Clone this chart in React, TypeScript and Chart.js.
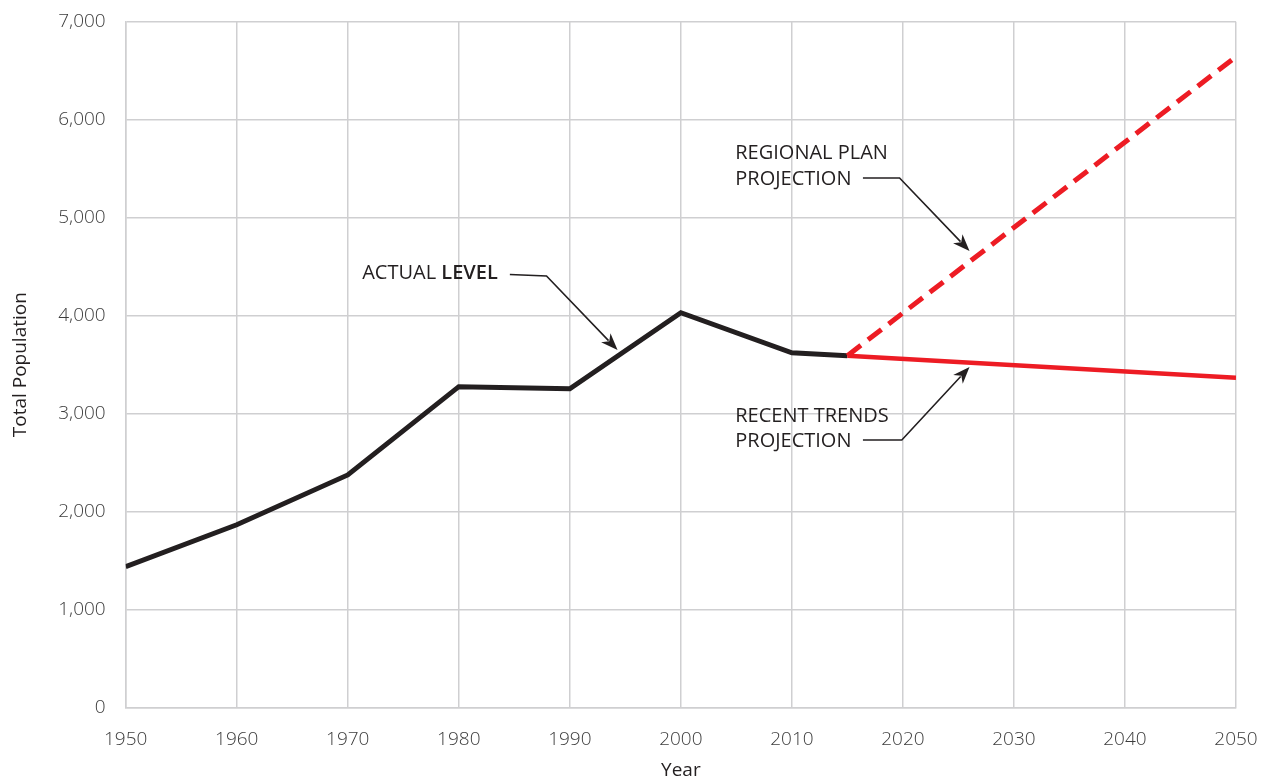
import React, { useEffect, useRef } from 'react';
import { Chart, registerables } from 'chart.js';

Chart.register(...registerables);

// ---- Data ----
const actualYears = [1950, 1960, 1970, 1980, 1990, 2000, 2010, 2015];
const actualValues = [1440, 1867, 2375, 3276, 3255, 4031, 3622, 3592];

const planYears = [2015, 2050];
const planValues = [3592, 6643];

const trendYears = [2015, 2050];
const trendValues = [3592, 3367];

const xTickValues = [1950, 1960, 1970, 1980, 1990, 2000, 2010, 2020, 2030, 2040, 2050];
const yTickValues = [0, 1000, 2000, 3000, 4000, 5000, 6000, 7000];

// Annotation texts (anchored in data coordinates)
const actualLabel = [[{ t: 'ACTUAL ', bold: false }, { t: 'LEVEL', bold: true }]];
const planLabel = [[{ t: 'REGIONAL PLAN', bold: false }], [{ t: 'PROJECTION', bold: false }]];
const trendLabel = [[{ t: 'RECENT TRENDS', bold: false }], [{ t: 'PROJECTION', bold: false }]];

const annotations = [
  { lines: actualLabel, textX: 1971.3, textY: [4436], path: [[1984.6, 4420], [1987.9, 4405], [1994.3, 3650]] },
  { lines: planLabel, textX: 2004.9, textY: [5660, 5395], path: [[2016.4, 5405], [2019.7, 5405], [2026.0, 4660]] },
  { lines: trendLabel, textX: 2004.9, textY: [2977, 2722], path: [[2016.4, 2732], [2019.9, 2732], [2026.0, 3477]] },
];

const toPoints = (xs: number[], ys: number[]) => xs.map((x, i) => ({ x, y: ys[i] }));

const FONT = "'Open Sans', 'Noto Sans', sans-serif";
const INK = '#231f20';
const RED = '#ed1c24';
const GRID = '#cfcfd1';

const annotationPlugin = {
  id: 'calloutAnnotations',
  afterDatasetsDraw(chart: any) {
    const { ctx, scales } = chart;
    const xs = scales.x;
    const ys = scales.y;
    ctx.save();
    ctx.fillStyle = INK;
    ctx.strokeStyle = INK;
    ctx.textBaseline = 'middle';
    ctx.textAlign = 'left';
    annotations.forEach((a) => {
      const left = xs.getPixelForValue(a.textX);
      a.lines.forEach((segments, li) => {
        let x = left;
        const y = ys.getPixelForValue(a.textY[li]);
        segments.forEach((s) => {
          ctx.font = `${s.bold ? 600 : 400} 20px ${FONT}`;
          ctx.fillText(s.t, x, y);
          x += ctx.measureText(s.t).width;
        });
      });
      const pts = a.path.map(([px, py]) => [xs.getPixelForValue(px), ys.getPixelForValue(py)]);
      const n = pts.length;
      const [tx, ty] = pts[n - 1];
      const [sx, sy] = pts[n - 2];
      const ang = Math.atan2(ty - sy, tx - sx);
      const headLen = 17;
      const headHalf = 6.5;
      const bx = tx - headLen * Math.cos(ang);
      const by = ty - headLen * Math.sin(ang);
      ctx.lineWidth = 1.6;
      ctx.beginPath();
      ctx.moveTo(pts[0][0], pts[0][1]);
      for (let i = 1; i < n - 1; i++) ctx.lineTo(pts[i][0], pts[i][1]);
      ctx.lineTo(bx + 4 * Math.cos(ang), by + 4 * Math.sin(ang));
      ctx.stroke();
      ctx.beginPath();
      ctx.moveTo(tx, ty);
      ctx.lineTo(bx - headHalf * Math.sin(ang), by + headHalf * Math.cos(ang));
      ctx.lineTo(bx + 5 * Math.cos(ang), by + 5 * Math.sin(ang));
      ctx.lineTo(bx + headHalf * Math.sin(ang), by - headHalf * Math.cos(ang));
      ctx.closePath();
      ctx.fill();
    });
    ctx.restore();
  },
};

export default function App() {
  const canvasRef = useRef<HTMLCanvasElement | null>(null);

  useEffect(() => {
    document.body.style.margin = '0';
    const canvas = canvasRef.current;
    if (!canvas) return;
    const chart = new Chart(canvas, {
      type: 'line',
      data: {
        datasets: [
          {
            label: 'Regional Plan Projection',
            data: toPoints(planYears, planValues),
            borderColor: RED,
            borderWidth: 5,
            borderDash: [17, 9],
            pointRadius: 0,
            fill: false,
            tension: 0,
          },
          {
            label: 'Recent Trends Projection',
            data: toPoints(trendYears, trendValues),
            borderColor: RED,
            borderWidth: 4.5,
            pointRadius: 0,
            fill: false,
            tension: 0,
          },
          {
            label: 'Actual Level',
            data: toPoints(actualYears, actualValues),
            borderColor: INK,
            borderWidth: 5,
            borderJoinStyle: 'miter',
            borderCapStyle: 'butt',
            pointRadius: 0,
            fill: false,
            tension: 0,
          },
        ],
      },
      options: {
        animation: false,
        responsive: false,
        maintainAspectRatio: false,
        layout: { padding: { left: 0, top: 21.7, right: 29, bottom: 0 } },
        plugins: {
          legend: { display: false },
          tooltip: { enabled: false },
        },
        scales: {
          x: {
            type: 'linear',
            min: 1950,
            max: 2050,
            afterBuildTicks: (scale: any) => {
              scale.ticks = xTickValues.map((v) => ({ value: v }));
            },
            afterFit: (scale: any) => {
              scale.height = 782 - 707.7;
              scale.paddingLeft = 0;
              scale.paddingRight = 0;
            },
            grid: { color: GRID, lineWidth: 1.5, drawTicks: false },
            border: { color: GRID, width: 1.5 },
            ticks: {
              padding: 20,
              color: '#3c3c3c',
              font: { family: FONT, size: 19, weight: '300' as any },
              callback: (v: any) => String(v),
              maxRotation: 0,
            },
            title: {
              display: true,
              text: 'Year',
              color: INK,
              font: { family: FONT, size: 19 },
              padding: { top: 0, bottom: 0 },
            },
          },
          y: {
            type: 'linear',
            min: 0,
            max: 7000,
            afterBuildTicks: (scale: any) => {
              scale.ticks = yTickValues.map((v) => ({ value: v }));
            },
            afterFit: (scale: any) => {
              scale.width = 125.7;
              scale.paddingTop = 0;
              scale.paddingBottom = 0;
            },
            grid: { color: GRID, lineWidth: 1.5, drawTicks: false },
            border: { color: GRID, width: 1.5 },
            ticks: {
              padding: 20,
              color: '#3c3c3c',
              font: { family: FONT, size: 19, weight: '300' as any },
              callback: (v: any) => Number(v).toLocaleString('en-US'),
            },
            title: {
              display: true,
              text: 'Total Population',
              color: INK,
              font: { family: FONT, size: 19 },
              padding: { top: 9, bottom: 0 },
            },
          },
        },
      },
      plugins: [annotationPlugin],
    });
    return () => chart.destroy();
  }, []);

  return (
    <div style={{ width: 1265, height: 782 }}>
      <canvas ref={canvasRef} width={1265} height={782} style={{ width: 1265, height: 782, display: 'block' }} />
    </div>
  );
}
